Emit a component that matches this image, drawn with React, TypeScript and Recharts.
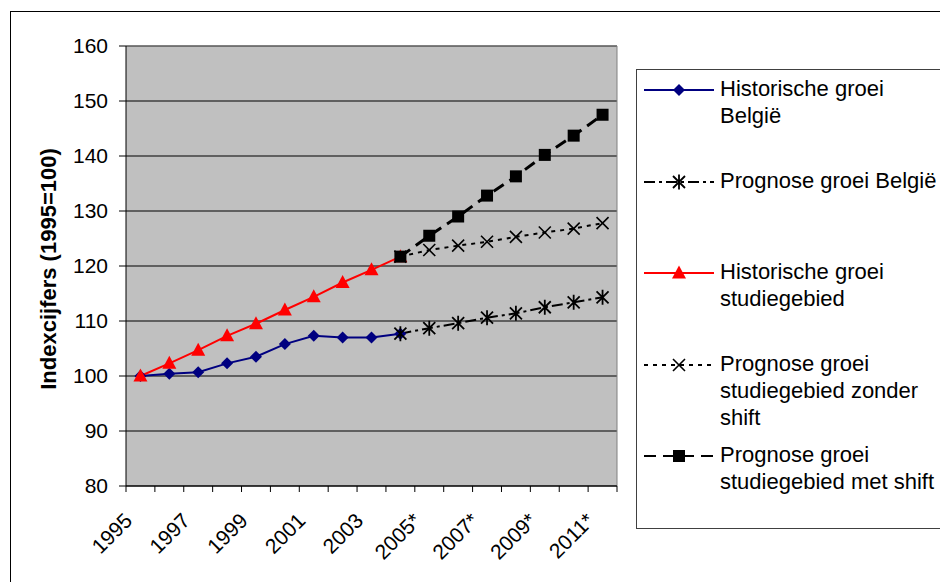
import React from "react";
import { LineChart, Line, XAxis, YAxis, CartesianGrid } from "recharts";

const years = [
  "1995", "1996", "1997", "1998", "1999", "2000", "2001", "2002", "2003", "2004",
  "2005*", "2006*", "2007*", "2008*", "2009*", "2010*", "2011*",
];
const histBelgie = [100, 100.4, 100.7, 102.3, 103.5, 105.8, 107.3, 107.0, 107.0, 107.7, null, null, null, null, null, null, null];
const progBelgie = [null, null, null, null, null, null, null, null, null, 107.7, 108.7, 109.6, 110.6, 111.4, 112.5, 113.4, 114.3];
const histStudie = [100, 102.3, 104.7, 107.3, 109.5, 112.0, 114.4, 117.0, 119.3, 121.7, null, null, null, null, null, null, null];
const progZonder = [null, null, null, null, null, null, null, null, null, 121.7, 122.9, 123.7, 124.4, 125.3, 126.1, 126.8, 127.8];
const progMet = [null, null, null, null, null, null, null, null, null, 121.7, 125.5, 129.0, 132.8, 136.3, 140.2, 143.7, 147.5];
const yTicks = [80, 90, 100, 110, 120, 130, 140, 150, 160];

const FONT = '"Liberation Sans", Arial, sans-serif';
const PLOT_LEFT = 126;
const PLOT_RIGHT = 617;
const BAND = (PLOT_RIGHT - PLOT_LEFT) / years.length;

type Kind = "diamond" | "star" | "triangle" | "cross" | "square";

const series = [
  { key: "histBelgie", kind: "diamond" as Kind, color: "#000080", width: 2, dash: undefined, label: ["Historische groei", "België"] },
  { key: "histStudie", kind: "triangle" as Kind, color: "#FF0000", width: 2, dash: undefined, label: ["Historische groei", "studiegebied"] },
  { key: "progBelgie", kind: "star" as Kind, color: "#000000", width: 2, dash: "11 4 3 4", label: ["Prognose groei België"] },
  { key: "progZonder", kind: "cross" as Kind, color: "#000000", width: 2, dash: "4 5", label: ["Prognose groei", "studiegebied zonder", "shift"] },
  { key: "progMet", kind: "square" as Kind, color: "#000000", width: 3, dash: "12 7", label: ["Prognose groei", "studiegebied met shift"] },
];

const data = years.map((year, i) => ({
  year,
  histBelgie: histBelgie[i],
  progBelgie: progBelgie[i],
  histStudie: histStudie[i],
  progZonder: progZonder[i],
  progMet: progMet[i],
}));

function marker(kind: Kind, cx: number, cy: number, color: string) {
  switch (kind) {
    case "diamond":
      return <polygon points={`${cx},${cy - 6} ${cx + 6},${cy} ${cx},${cy + 6} ${cx - 6},${cy}`} fill={color} />;
    case "triangle":
      return <polygon points={`${cx},${cy - 7.5} ${cx + 7},${cy + 5.5} ${cx - 7},${cy + 5.5}`} fill={color} />;
    case "square":
      return <rect x={cx - 6} y={cy - 6} width={12} height={12} fill={color} />;
    case "cross":
      return (
        <path
          d={`M${cx - 6},${cy - 6}L${cx + 6},${cy + 6}M${cx - 6},${cy + 6}L${cx + 6},${cy - 6}`}
          stroke={color}
          strokeWidth={1.6}
          fill="none"
        />
      );
    case "star":
      return (
        <path
          d={`M${cx - 6},${cy - 6}L${cx + 6},${cy + 6}M${cx - 6},${cy + 6}L${cx + 6},${cy - 6}M${cx},${cy - 7.5}L${cx},${cy + 7.5}`}
          stroke={color}
          strokeWidth={1.8}
          fill="none"
        />
      );
  }
}

const makeDot = (kind: Kind, color: string) => (props: any) => {
  const { cx, cy, index, value } = props;
  if (value == null || cx == null || cy == null) return <g key={index} />;
  return <g key={index}>{marker(kind, cx, cy, color)}</g>;
};

function XTick(props: any) {
  const { x, y, payload, index, visibleTicksCount } = props;
  const axisY = y - 6;
  const last = index === (visibleTicksCount ?? years.length) - 1;
  return (
    <g>
      <line x1={x - BAND / 2} y1={axisY} x2={x - BAND / 2} y2={axisY + 6} stroke="#000" />
      {last && <line x1={x + BAND / 2} y1={axisY} x2={x + BAND / 2} y2={axisY + 6} stroke="#000" />}
      {index % 2 === 0 && (
        <g transform={`translate(${x - 7} ${axisY + 36}) rotate(-45)`}>
          <text x={0} y={0} textAnchor="end" fontSize={21} fontFamily={FONT} fill="#000">
            {payload.value}
          </text>
        </g>
      )}
    </g>
  );
}

function YTitle() {
  return (
    <text
      x={48}
      y={269}
      transform="rotate(-90 48 269)"
      textAnchor="middle"
      dominantBaseline="central"
      fontSize={22}
      fontWeight="bold"
      fontFamily={FONT}
      fill="#000"
    >
      Indexcijfers (1995=100)
    </text>
  );
}

const legendRows = [
  { s: series[0], y: 90 },
  { s: series[2], y: 182 },
  { s: series[1], y: 273 },
  { s: series[3], y: 365 },
  { s: series[4], y: 456 },
];

export default function App() {
  return (
    <div
      style={{
        position: "fixed",
        left: 0,
        top: 0,
        width: 940,
        height: 582,
        overflow: "hidden",
        background: "#fff",
        fontFamily: FONT,
      }}
    >
      <div
        style={{
          position: "absolute",
          left: 10,
          top: 11,
          width: 1000,
          height: 1000,
          border: "1px solid #000",
        }}
      />
      <div style={{ position: "absolute", left: 0, top: 0 }}>
        <LineChart width={940} height={582} data={data} margin={{ top: 46, right: 323, bottom: 0, left: 0 }}>
          <CartesianGrid fill="#C0C0C0" stroke="#000" strokeOpacity={1} vertical={false} />
          <CartesianGrid
            stroke="#808080"
            horizontalCoordinatesGenerator={({ offset }: any) => [offset.top]}
            verticalCoordinatesGenerator={({ offset }: any) => [offset.left + offset.width]}
          />
          <XAxis
            dataKey="year"
            height={96}
            interval={0}
            padding={{ left: BAND / 2, right: BAND / 2 }}
            tickLine={false}
            tickSize={6}
            tickMargin={0}
            axisLine={{ stroke: "#000" }}
            tick={<XTick />}
          />
          <YAxis
            width={126}
            domain={[80, 160]}
            ticks={yTicks}
            interval={0}
            tickSize={7}
            tickMargin={11}
            axisLine={{ stroke: "#000" }}
            tickLine={{ stroke: "#000" }}
            tick={{ fontSize: 21, fill: "#000", fontFamily: FONT }}
            label={() => <YTitle />}
          />
          {series.map((s) => (
            <Line
              key={s.key}
              dataKey={s.key}
              type="linear"
              stroke={s.color}
              strokeWidth={s.width}
              strokeDasharray={s.dash}
              dot={makeDot(s.kind, s.color)}
              activeDot={false}
              isAnimationActive={false}
            />
          ))}
        </LineChart>
      </div>
      <div
        style={{
          position: "absolute",
          left: 636,
          top: 69,
          width: 400,
          height: 458,
          border: "1px solid #404040",
          background: "#fff",
        }}
      />
      {legendRows.map(({ s, y }) => (
        <React.Fragment key={s.key}>
          <svg style={{ position: "absolute", left: 640, top: y - 10 }} width={80} height={20}>
            <line x1={4} y1={10} x2={74} y2={10} stroke={s.color} strokeWidth={2} strokeDasharray={s.dash} />
            {marker(s.kind, 39, 10, s.color)}
          </svg>
          <div
            style={{
              position: "absolute",
              left: 720,
              top: y - 15,
              fontSize: 22,
              lineHeight: "27px",
              whiteSpace: "nowrap",
              color: "#000",
            }}
          >
            {s.label.map((t, i) => (
              <div key={i}>{t}</div>
            ))}
          </div>
        </React.Fragment>
      ))}
    </div>
  );
}
